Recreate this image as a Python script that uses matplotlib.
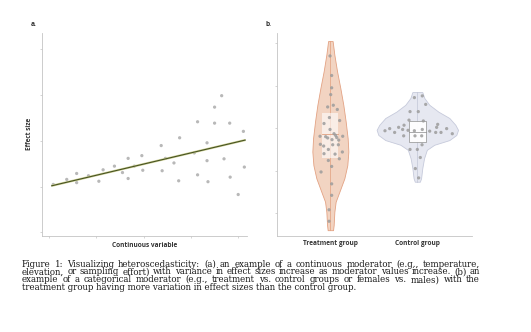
import numpy as np
import matplotlib
matplotlib.use("Agg")
import matplotlib.pyplot as plt

# ---------------- data ----------------
# panel a: continuous moderator
cont_x = [0.085, 0.37, 0.58, 0.58, 0.83, 1.05, 1.14, 1.38, 1.55, 1.67, 1.67, 1.80,
          1.96, 1.98, 2.37, 2.39, 2.46, 2.64, 2.76, 2.74, 3.07, 3.14, 3.14, 3.34,
          3.34, 3.36, 3.50, 3.50, 3.65, 3.70, 3.82, 3.83, 4.00, 4.11, 4.13]
cont_y = [1.05, 1.16, 1.29, 1.09, 1.24, 1.12, 1.37, 1.45, 1.31, 1.62, 1.18, 1.45,
          1.68, 1.36, 1.90, 1.35, 1.62, 1.52, 2.07, 1.13, 1.74, 2.42, 1.26, 1.96,
          1.57, 1.11, 2.74, 2.39, 2.99, 1.61, 2.39, 1.21, 0.83, 2.21, 1.43]
fit_x = [0.05, 4.15]
fit_slope = 0.244
fit_intercept = 1.008

# panel b: categorical moderator
groups = ["Treatment group", "Control group"]
treat_y = [3.70, 3.24, 2.95, 2.79, 2.54, 2.50, 2.44, 2.25, 2.11, 2.18, 1.97, 1.87,
           1.83, 1.81, 1.81, 1.80, 1.77, 1.78, 1.73, 1.72, 1.62, 1.58, 1.61, 1.61,
           1.50, 1.40, 1.44, 1.39, 1.28, 1.24, 1.10, 0.97, 0.69, 0.42, 0.08, -0.19]
treat_jit = [-0.004, 0.015, 0.015, 0.004, 0.034, -0.031, 0.080, -0.011, -0.073, 0.107,
             -0.004, 0.042, 0.061, 0.142, -0.119, -0.054, -0.031, 0.073, 0.019, 0.096,
             -0.115, -0.077, 0.027, 0.092, -0.023, -0.073, 0.138, 0.054, 0.103, -0.023,
             0.015, -0.107, 0.015, 0.015, -0.015, -0.015]
ctrl_y = [2.72, 2.76, 2.56, 2.39, 2.39, 2.19, 2.17, 1.94, 1.99, 1.90, 2.02, 1.97,
          2.07, 1.95, 1.94, 1.97, 1.93, 1.90, 2.02, 2.09, 1.90, 1.99, 1.87, 1.82,
          1.82, 1.82, 1.61, 1.50, 1.50, 1.31, 1.05, 0.83]
ctrl_jit = [-0.034, 0.057, 0.096, -0.084, 0.011, -0.096, 0.069, -0.372, -0.318, -0.261,
            -0.215, -0.169, -0.153, -0.107, -0.034, 0.057, 0.142, 0.211, 0.222, 0.234,
            0.272, 0.337, 0.402, -0.157, -0.027, 0.050, 0.054, -0.084, 0.0, 0.034,
            -0.023, 0.015]

# box statistics as drawn (lower quartile, median, upper quartile)
treat_box = [1.31, 1.86, 2.35]
ctrl_box = [1.67, 1.90, 2.16]

# violin outlines: effect-size level and density half-width
treat_vy = [4.05, 3.73, 3.34, 2.94, 2.55, 2.16, 1.76, 1.45, 1.13, 0.82, 0.50, 0.27,
            0.03, -0.28, -0.40]
treat_vw = [0.026, 0.046, 0.077, 0.115, 0.149, 0.176, 0.199, 0.207, 0.195, 0.161,
            0.103, 0.061, 0.046, 0.038, 0.031]
ctrl_vy = [2.85, 2.71, 2.55, 2.39, 2.24, 2.08, 1.96, 1.84, 1.72, 1.61, 1.49, 1.29,
           1.06, 0.82, 0.74]
ctrl_vw = [0.057, 0.080, 0.138, 0.241, 0.368, 0.437, 0.468, 0.448, 0.368, 0.195,
           0.109, 0.077, 0.057, 0.043, 0.029]

caption_lines = [
    "Figure 1:  Visualizing heteroscedasticity:  (a) an example of a continuous moderator (e.g., temperature,",
    "elevation, or sampling effort) with variance in effect sizes increase as moderator values increase.  (b) an",
    "example of a categorical moderator (e.g., treatment vs.  control groups or females vs.  males) with the",
    "treatment group having more variation in effect sizes than the control group.",
]

# ---------------- figure ----------------
W, H = 531, 332
fig = plt.figure(figsize=(W / 100, H / 100), dpi=100)
fig.patch.set_facecolor("white")

lab_font = dict(family="Open Sans", weight="bold", color="#333333")
spine_c = "#c4c4c4"


def px_axes(l, r, t, b):
    return fig.add_axes([l / W, 1 - b / H, (r - l) / W, (b - t) / H])


def style(ax):
    for s in ["top", "right"]:
        ax.spines[s].set_visible(False)
    for s in ["left", "bottom"]:
        ax.spines[s].set_color(spine_c)
        ax.spines[s].set_linewidth(0.6)
    ax.tick_params(length=1.5, width=0.5, color=spine_c, labelleft=False, labelbottom=False)


# panel a
axa = px_axes(41.7, 246.7, 33, 235.7)
style(axa)
axa.set_xlim(-0.16, 4.18)
axa.set_ylim(-0.07, 4.36)
axa.set_xticks([0, 1, 2, 3, 4])
axa.set_yticks([0, 1, 2, 3, 4])
axa.scatter(cont_x, cont_y, s=5.5, color="#b8b8b8", edgecolors="none", zorder=2)
fx = np.array(fit_x)
axa.plot(fx, fit_intercept + fit_slope * fx, color="#d2d49a", lw=1.6, zorder=3,
         solid_capstyle="butt")
axa.plot(fx, fit_intercept + fit_slope * fx, color="#465222", lw=0.8, zorder=4)
axa.set_xlabel("Continuous variable", fontsize=4.7, labelpad=3, **lab_font)
axa.set_ylabel("Effect size", fontsize=4.7, labelpad=5, **lab_font)
fig.text(31 / W, 1 - 25 / H, "a.", fontsize=4.8, ha="left", va="center", **lab_font)

# panel b
axb = px_axes(277.3, 471.7, 33, 235.7)
style(axb)
axb.set_xlim(-0.61, 1.625)
axb.set_ylim(-0.53, 4.24)
axb.set_yticks([0, 1, 2, 3, 4])
axb.set_xticks([0, 1])
axb.tick_params(axis="x", length=0)
axb.set_xticklabels(groups)
axb.tick_params(axis="x", labelbottom=True, pad=3, labelsize=4.7)
for tl in axb.get_xticklabels():
    tl.set_fontfamily("Open Sans")
    tl.set_fontweight("bold")
    tl.set_color("#333333")
fig.text(265.5 / W, 1 - 25 / H, "b.", fontsize=4.8, ha="left", va="center", **lab_font)

datasets = [(np.array(treat_y), np.array(treat_jit)), (np.array(ctrl_y), np.array(ctrl_jit))]
outlines = [(np.array(treat_vy), np.array(treat_vw)), (np.array(ctrl_vy), np.array(ctrl_vw))]
boxes = [treat_box, ctrl_box]
fills = ["#f2d4c2", "#e6e8f1"]
edges = ["#e3a283", "#c6cadb"]
centers = ["#e2a07e", "#c2c6d6"]

for i, ((y, jit), (vy, vw), (q1, med, q3)) in enumerate(zip(datasets, outlines, boxes)):
    axb.fill_betweenx(vy, i - vw, i + vw, facecolor=fills[i], edgecolor=edges[i],
                      lw=0.6, zorder=1)
    axb.plot([i, i], [vy.min(), vy.max()], color=centers[i], lw=0.5, zorder=2)
    if i == 0:
        bw = 0.092
        axb.add_patch(plt.Rectangle((i - bw, q1), 2 * bw, q3 - q1, facecolor="white",
                                    alpha=0.6, edgecolor="none", zorder=3))
        axb.plot([i - bw, i + bw], [med, med], color="#e2a07e", lw=0.6, zorder=4)
    else:
        bw = 0.1
        axb.add_patch(plt.Rectangle((i - bw, q1), 2 * bw, q3 - q1, facecolor="white",
                                    alpha=0.95, edgecolor="#8a8a8a", lw=0.5, zorder=3))
        axb.plot([i - bw, i + bw], [med, med], color="#8a8a8a", lw=0.5, zorder=4)
    axb.scatter(i + jit, y, s=5.5, color="#9c9c9c", alpha=0.85, edgecolors="none", zorder=5)

# ---------------- caption (justified) ----------------
cap_font = dict(family="DejaVu Serif", color="#1a1a1a")
x0, x1 = 22.0, 480.0
ys = [264.3, 272.0, 279.7, 287.3]

# choose the size so that a justified line has roughly natural word spacing
probe = fig.text(0, 0.5, " ".join(caption_lines[0].split()), fontsize=5.0, **cap_font)
fig.canvas.draw()
fs = 5.0 * 452.0 / probe.get_window_extent().width
probe.remove()

line_texts = []
for li, (line, yy) in enumerate(zip(caption_lines, ys)):
    if li == len(caption_lines) - 1:
        fig.text(x0 / W, 1 - yy / H, line, fontsize=fs, ha="left", va="center", **cap_font)
        continue
    ts = [fig.text(0, 1 - yy / H, w, fontsize=fs, ha="left", va="center", **cap_font)
          for w in line.split()]
    line_texts.append(ts)

fig.canvas.draw()
for ts in line_texts:
    ws = [t.get_window_extent().width for t in ts]
    gap = (x1 - x0 - sum(ws)) / (len(ts) - 1)
    x = x0
    for t, wd in zip(ts, ws):
        t.set_x(x / W)
        x += wd + gap

fig.savefig("out.png", dpi=100, facecolor="white")
